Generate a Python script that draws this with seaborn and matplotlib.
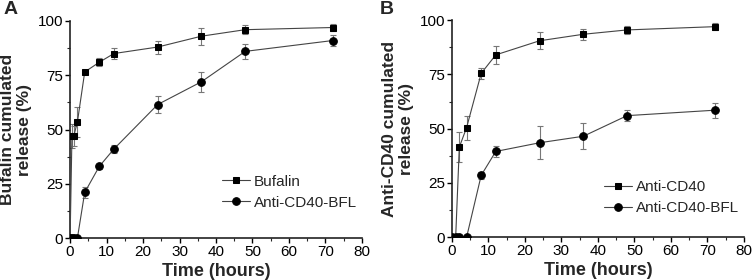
"""
Cumulative release curves: bufalin and anti-CD40 from the conjugate
"""

import numpy as np
import pandas as pd
import matplotlib
matplotlib.use("Agg")
import matplotlib.pyplot as plt
from matplotlib.ticker import MultipleLocator
import seaborn as sns

sns.set_style("ticks")
plt.rcParams['font.family'] = ['Liberation Sans', 'DejaVu Sans']

# Panel A: bufalin release
time_a = [0, 0.5, 1, 2, 4, 8, 12, 24, 36, 48, 72]
bufalin = [0, 47, 47, 53.5, 76.5, 81, 85, 88, 93, 96, 97]
bufalin_err = [0, 5.5, 4.5, 7, 1, 1.8, 2.5, 3, 4, 2, 1.8]
bfl_a = [0, 0, 0, 0, 21, 33, 41, 61.5, 72, 86, 91]
bfl_a_err = [0, 0, 0, 0, 2.5, 1, 2, 4, 4.5, 3.5, 2.5]

# Panel B: anti-CD40 release
time_b = [0, 1, 2, 4, 8, 12, 24, 36, 48, 72]
anti_cd40 = [0, 0, 41.5, 50.5, 75.5, 84, 90.5, 93.5, 95.5, 97]
anti_cd40_err = [0, 0, 7, 5.5, 2.5, 4, 4, 2.5, 2, 1.5]
bfl_b = [0, 0, 0, 0, 28.5, 39.5, 43.5, 46.5, 56, 58.5]
bfl_b_err = [0, 0, 0, 0, 1.5, 2.5, 7.5, 6, 2.5, 3.5]


def draw_panel(ax, t, s1, e1, lab1, s2, e2, lab2, ylabel, legend_anchor):
    for vals, errs, marker, lab in [(s1, e1, 's', lab1), (s2, e2, 'o', lab2)]:
        ax.errorbar(t, vals, yerr=errs, fmt='none', ecolor='#777777',
                    elinewidth=0.8, capsize=2.2, capthick=0.8, zorder=1)
        df = pd.DataFrame({'Time': t, 'Release': vals})
        sns.lineplot(data=df, x='Time', y='Release', ax=ax, color='#444444',
                     linewidth=0.8, marker=marker, markersize=5.5 if marker == 'o' else 4.8,
                     markerfacecolor='black', markeredgecolor='black', label=lab, zorder=3)

    ax.set_xlim(0, 80)
    ax.set_ylim(0, 100)
    ax.xaxis.set_major_locator(MultipleLocator(10))
    ax.xaxis.set_minor_locator(MultipleLocator(5))
    ax.yaxis.set_major_locator(MultipleLocator(25))
    ax.yaxis.set_minor_locator(MultipleLocator(12.5))
    ax.tick_params(which='major', length=3.5, width=1, labelsize=11, pad=1.5, colors='black')
    ax.tick_params(which='minor', length=2, width=0.8)
    for side in ['left', 'bottom']:
        ax.spines[side].set_linewidth(1.2)
        ax.spines[side].set_color('#222222')
    sns.despine(ax=ax)
    ax.set_xlabel('Time (hours)', fontsize=13, fontweight='bold', labelpad=3)
    ax.set_ylabel(ylabel, fontsize=12.5, fontweight='bold', labelpad=4, linespacing=1.15)
    ax.legend(loc='upper left', bbox_to_anchor=legend_anchor, frameon=False,
              fontsize=11, handlelength=1.8, handletextpad=0.3, labelspacing=0.45,
              borderaxespad=0)


fig = plt.figure(figsize=(7.54, 2.8), dpi=100)
ax_a = fig.add_axes([0.093, 0.15, 0.387, 0.775])
ax_b = fig.add_axes([0.5995, 0.153, 0.387, 0.775])

draw_panel(ax_a, time_a, bufalin, bufalin_err, 'Bufalin', bfl_a, bfl_a_err, 'Anti-CD40-BFL',
           'Bufalin cumulated\nrelease (%)', (0.5, 0.32))
draw_panel(ax_b, time_b, anti_cd40, anti_cd40_err, 'Anti-CD40', bfl_b, bfl_b_err, 'Anti-CD40-BFL',
           'Anti-CD40 cumulated\nrelease (%)', (0.5, 0.29))

fig.text(0.004, 0.995, 'A', fontsize=14, fontweight='bold', va='top', ha='left')
fig.text(0.503, 0.995, 'B', fontsize=14, fontweight='bold', va='top', ha='left')

fig.savefig('out.png', dpi=100)
